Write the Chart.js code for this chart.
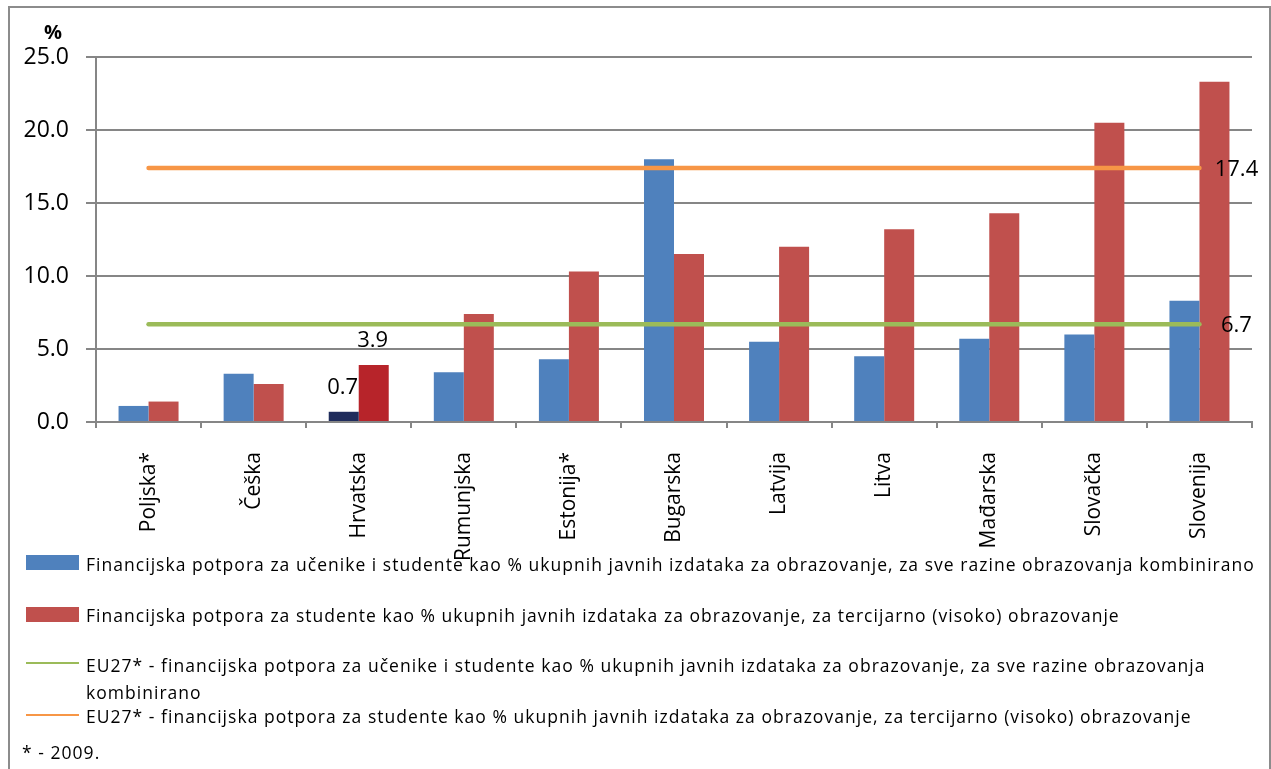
<!DOCTYPE html>
<html lang="hr">
<head>
<meta charset="utf-8">
<title>Financijska potpora za učenike i studente</title>
<script src="https://cdn.jsdelivr.net/npm/chart.js@4.4.1/dist/chart.umd.min.js"></script>
<style>
    html, body {
        margin: 0;
        padding: 0;
        background: #fff;
        width: 1271px;
        height: 769px;
        overflow: hidden;
        font-family: 'Open Sans', sans-serif;
    }
    #frame {
        position: absolute;
        left: 8px;
        top: 6px;
        width: 1259px;
        height: 800px;
        border: 2px solid #8c8c8c;
    }
    #chartWrap {
        position: absolute;
        left: 0;
        top: 0;
        width: 1271px;
        height: 769px;
    }
    #legend {
        position: absolute;
        left: 0;
        top: 0;
        width: 1271px;
        height: 769px;
        pointer-events: none;
    }
    .item {
        position: absolute;
        left: 86px;
        font-size: 17.5px;
        line-height: 27px;
        letter-spacing: 1.03px;
        color: #000;
        white-space: pre-line;
    }
    .box {
        position: absolute;
        left: 26px;
        width: 53px;
        height: 15px;
    }
    .line {
        position: absolute;
        left: 26px;
        width: 53px;
        height: 2px;
    }
    .note {
        position: absolute;
        left: 22px;
        top: 739px;
        font-size: 17.5px;
        line-height: 27px;
        letter-spacing: 1.03px;
    }
</style>
</head>
<body>
<div id="frame"></div>
<div id="chartWrap"><canvas id="myChart" width="1271" height="769"></canvas></div>
<div id="legend"></div>

<script>
// zemlje (kategorije na osi x)
const countries = ['Poljska*', 'Češka', 'Hrvatska', 'Rumunjska', 'Estonija*', 'Bugarska',
    'Latvija', 'Litva', 'Mađarska', 'Slovačka', 'Slovenija'];

// sve razine obrazovanja kombinirano (%)
const sveRazine = [1.1, 3.3, 0.7, 3.4, 4.3, 18.0, 5.5, 4.5, 5.7, 6.0, 8.3];
// tercijarno (visoko) obrazovanje (%)
const tercijarno = [1.4, 2.6, 3.9, 7.4, 10.3, 11.5, 12.0, 13.2, 14.3, 20.5, 23.3];

// EU27 prosjek - vodoravne linije
const eu27SveRazine = [6.7, 6.7, 6.7, 6.7, 6.7, 6.7, 6.7, 6.7, 6.7, 6.7, 6.7];
const eu27Tercijarno = [17.4, 17.4, 17.4, 17.4, 17.4, 17.4, 17.4, 17.4, 17.4, 17.4, 17.4];

const yTicks = [0, 5, 10, 15, 20, 25];

const labels = {
    sve: 'Financijska potpora za učenike i studente kao % ukupnih javnih izdataka za obrazovanje, za sve razine obrazovanja kombinirano',
    ter: 'Financijska potpora za studente kao % ukupnih javnih izdataka za obrazovanje, za tercijarno (visoko) obrazovanje',
    euSve: 'EU27* - financijska potpora za učenike i studente kao % ukupnih javnih izdataka za obrazovanje, za sve razine obrazovanja\nkombinirano',
    euTer: 'EU27* - financijska potpora za studente kao % ukupnih javnih izdataka za obrazovanje, za tercijarno (visoko) obrazovanje'
};

const BLUE = '#4F81BD';
const RED = '#C0504D';
const GREEN = '#9BBB59';
const ORANGE = '#F79646';
const GRID = '#868686';
const HR_INDEX = countries.indexOf('Hrvatska');

// Hrvatska je istaknuta tamnijim bojama
const blueColors = countries.map((c, i) => i === HR_INDEX ? '#1F2C5C' : BLUE);
const redColors = countries.map((c, i) => i === HR_INDEX ? '#B7242A' : RED);

const FONT = "'Open Sans', sans-serif";

// vrijednosti iznad stupaca za Hrvatsku, vrijednosti na kraju EU27 linija, oznaka "%"
const valueLabels = {
    id: 'valueLabels',
    afterDatasetsDraw(chart) {
        const ctx = chart.ctx;
        ctx.save();
        ctx.fillStyle = '#000';
        ctx.font = '22px ' + FONT;
        ctx.textAlign = 'center';
        ctx.textBaseline = 'alphabetic';
        [0, 1].forEach(di => {
            const bar = chart.getDatasetMeta(di).data[HR_INDEX];
            const v = chart.data.datasets[di].data[HR_INDEX];
            ctx.fillText(v.toFixed(1), bar.x - 1, bar.y - 18);
        });
        ctx.textBaseline = 'middle';
        [2, 3].forEach(di => {
            const pts = chart.getDatasetMeta(di).data;
            const last = pts[pts.length - 1];
            const v = chart.data.datasets[di].data[pts.length - 1];
            ctx.fillText(v.toFixed(1), last.x + 37, last.y + 2);
        });
        ctx.font = 'bold 20px ' + FONT;
        ctx.fillText('%', 53, 33);
        ctx.restore();
    }
};

const ctx = document.getElementById('myChart').getContext('2d');

const chart = new Chart(ctx, {
    type: 'bar',
    data: {
        labels: countries,
        datasets: [
            {
                label: labels.sve,
                data: sveRazine,
                backgroundColor: blueColors,
                categoryPercentage: 0.571,
                barPercentage: 1.0,
                order: 1
            },
            {
                label: labels.ter,
                data: tercijarno,
                backgroundColor: redColors,
                categoryPercentage: 0.571,
                barPercentage: 1.0,
                order: 1
            },
            {
                type: 'line',
                label: labels.euSve,
                data: eu27SveRazine,
                borderColor: GREEN,
                backgroundColor: GREEN,
                borderWidth: 4.5,
                borderCapStyle: 'round',
                pointRadius: 0,
                order: 0
            },
            {
                type: 'line',
                label: labels.euTer,
                data: eu27Tercijarno,
                borderColor: ORANGE,
                backgroundColor: ORANGE,
                borderWidth: 4.5,
                borderCapStyle: 'round',
                pointRadius: 0,
                order: 0
            }
        ]
    },
    options: {
        responsive: false,
        animation: false,
        layout: {
            // os x ostaje na y=422, a prostor ispod je za zaokrenute nazive
            padding: { top: 57, right: 19, left: 0, bottom: 187 }
        },
        plugins: {
            legend: { display: false },
            tooltip: { enabled: false }
        },
        scales: {
            x: {
                offset: true,
                grid: {
                    offset: true,
                    drawOnChartArea: false,
                    drawTicks: true,
                    tickLength: 6,
                    color: GRID,
                    lineWidth: 2
                },
                border: { display: true, color: GRID, width: 2 },
                ticks: {
                    color: '#000',
                    font: { family: FONT, size: 21 },
                    minRotation: 90,
                    maxRotation: 90,
                    autoSkip: false,
                    padding: 24
                },
                afterFit(scale) {
                    scale.height = 160;
                }
            },
            y: {
                min: 0,
                max: 25,
                afterBuildTicks(scale) {
                    scale.ticks = yTicks.map(v => ({ value: v }));
                },
                grid: {
                    color: GRID,
                    lineWidth: 2,
                    drawTicks: true,
                    tickLength: 10
                },
                border: { display: true, color: GRID, width: 2 },
                ticks: {
                    color: '#000',
                    font: { family: FONT, size: 23 },
                    padding: 17,
                    callback: v => v.toFixed(1)
                },
                afterFit(scale) {
                    scale.width = 96;
                }
            }
        }
    },
    plugins: [valueLabels]
});

// legenda ispod grafikona, svaka stavka u svom retku
const legendEl = document.getElementById('legend');
const legendRows = [
    { top: 551, markTop: 555, kind: 'box' },
    { top: 602, markTop: 607, kind: 'box' },
    { top: 652, markTop: 662, kind: 'line' },
    { top: 703, markTop: 714, kind: 'line' }
];
chart.data.datasets.forEach((ds, i) => {
    const row = legendRows[i];
    const mark = document.createElement('div');
    mark.className = row.kind;
    mark.style.top = row.markTop + 'px';
    mark.style.background = row.kind === 'box' ? (i === 0 ? BLUE : RED) : ds.borderColor;
    legendEl.appendChild(mark);

    const text = document.createElement('div');
    text.className = 'item';
    text.style.top = row.top + 'px';
    text.textContent = ds.label;
    legendEl.appendChild(text);
});
const note = document.createElement('div');
note.className = 'note';
note.textContent = '* - 2009.';
legendEl.appendChild(note);
</script>
</body>
</html>
